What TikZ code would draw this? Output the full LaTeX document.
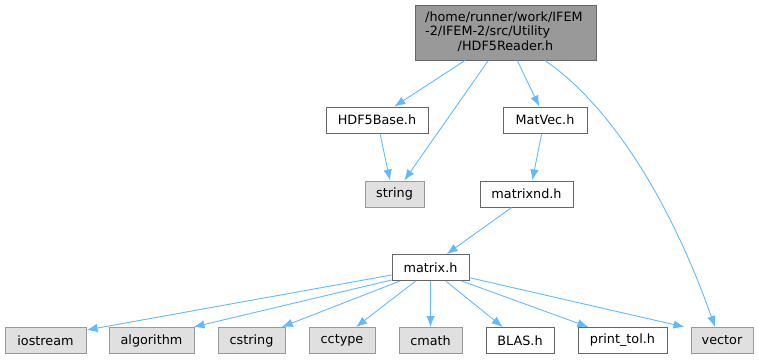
\documentclass[tikz,border=0pt]{standalone}
\usepackage{fontspec}
\setmainfont{DejaVu Sans}
\usetikzlibrary{arrows.meta}
\definecolor{edgeblue}{HTML}{63B8FF}
\definecolor{topfill}{HTML}{999999}
\definecolor{topdraw}{HTML}{666666}
\definecolor{sysfill}{HTML}{E0E0E0}
\definecolor{sysdraw}{HTML}{999999}
\begin{document}
\begin{tikzpicture}[x=1pt,y=-1pt,
  every node/.style={font=\fontsize{12.8}{14.5}\selectfont, inner sep=0pt},
  boxbase/.style={rectangle, minimum height=26pt, line width=1pt},
  filebox/.style={boxbase, draw=topdraw, fill=white},
  sysbox/.style={boxbase, draw=sysdraw, fill=sysfill},
  topbox/.style={rectangle, draw=topdraw, fill=topfill, line width=1pt},
  dep/.style={draw=edgeblue, line width=0.9pt, -{Latex[length=11pt,width=8.5pt]}},
  txt/.style={text=black}
]
\useasboundingbox (0,0) rectangle (759,359);

% top node
\node[topbox, minimum width=181pt, minimum height=55pt] (top) at (505.5,32.5) {};
\node[txt, anchor=west] (l1) at (425,17) {/home/runner/work/IFEM};
\node[txt, anchor=west] (l2) at (425,32) {-2/IFEM-2/src/Utility};
\node[txt] (l3) at (505.5,46.5) {/HDF5Reader.h};

% second level
\node[filebox, minimum width=102pt] (h5) at (377,120) {HDF5Base.h};
\node[filebox, minimum width=84pt] (matvec) at (545,120) {MatVec.h};
\node[sysbox, minimum width=59pt] (string) at (394.5,194) {string};
\node[filebox, minimum width=93pt] (matrixnd) at (526.5,194) {matrixnd.h};
\node[filebox, minimum width=77pt] (matrix) at (430.5,267.5) {matrix.h};

% bottom row
\node[sysbox, minimum width=81pt] (iostream) at (45.5,340.5) {iostream};
\node[sysbox, minimum width=85pt] (algorithm) at (151.5,340.5) {algorithm};
\node[sysbox, minimum width=67pt] (cstring) at (251.5,340.5) {cstring};
\node[sysbox, minimum width=66pt] (cctype) at (342,340.5) {cctype};
\node[sysbox, minimum width=63pt] (cmath) at (430.5,340.5) {cmath};
\node[filebox, minimum width=68pt] (blas) at (520,340.5) {BLAS.h};
\node[filebox, minimum width=89pt] (printtol) at (622.5,340.5) {print\_tol.h};
\node[sysbox, minimum width=62pt] (vector) at (722,340.5) {vector};

% edges
\draw[dep] ([xshift=-40.5pt]top.south) -- ([xshift=17.3pt]h5.north);
\draw[dep] ([xshift=-17.2pt]top.south) -- ([xshift=9.8pt]string.north);
\draw[dep] ([xshift=11.8pt]top.south) -- ([xshift=-5.7pt]matvec.north);
\draw[dep] ([xshift=39.5pt]top.south) .. controls (610,105) and (670,200) .. ([xshift=-7pt]vector.north);
\draw[dep] ([xshift=3pt]h5.south) -- ([xshift=-4.5pt]string.north);
\draw[dep] ([xshift=-3.3pt]matvec.south) -- ([xshift=5.8pt]matrixnd.north);
\draw[dep] ([xshift=-14.8pt]matrixnd.south) -- ([xshift=16.2pt]matrix.north);

\draw[dep] ([yshift=-7.5pt]matrix.west) -- ([yshift=10.5pt]iostream.east);
\draw[dep] ([yshift=1pt]matrix.south west) -- ([xshift=-1pt]algorithm.north east);
\draw[dep] ([xshift=-30.5pt]matrix.south) -- ([xshift=30.2pt]cstring.north);
\draw[dep] ([xshift=-14.8pt]matrix.south) -- ([xshift=14pt]cctype.north);
\draw[dep] (matrix.south) -- (cmath.north);
\draw[dep] ([xshift=15.2pt]matrix.south) -- ([xshift=-17.3pt]blas.north);
\draw[dep] ([xshift=31.2pt]matrix.south) -- ([xshift=-34.2pt]printtol.north);
\draw[dep] ([yshift=-10.2pt]matrix.east) -- ([xshift=-6pt]vector.north west);
\end{tikzpicture}
\end{document}
